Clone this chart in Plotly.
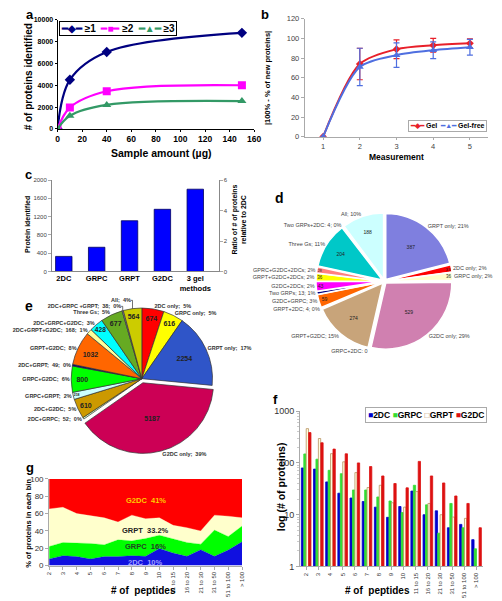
import plotly.graph_objects as go

W, H = 502, 601
FONT = "Liberation Sans, Arial, sans-serif"

# ---------------- data ----------------
# (a)
a_x = [0, 10, 40, 150]
a_ge1 = [0, 4500, 7050, 8800]
a_ge2 = [0, 1950, 3450, 4000]
a_ge3 = [0, 1200, 2200, 2550]

# (b)
b_x = [1, 2, 3, 4, 5]
b_gel = [0, 74, 89, 93, 95]
b_gel_err = [0, 16, 9.5, 7, 4.5]
b_free = [0, 71, 83, 88, 91]
b_free_err = [0, 19, 12.5, 8.5, 8]

# (c)
c_methods = ["2DC", "GRPC", "GRPT", "G2DC", "3 gel<br>methods"]
c_proteins = [330, 530, 1110, 1360, 1800]

# (d)
d_labels = ["GRPT only", "2DC only", "GRPC only", "G2DC only", "GRPC+2DC",
            "GRPT+G2DC", "GRPT+2DC", "G2DC+GRPC", "Two GRPs", "G2DC+2DCs",
            "GRPT+G2DC+2DCs", "GPRC+G2DC+2DCs", "Three Gs", "Two GRPs+2DC", "All"]
d_values = [387, 33, 36, 529, 0, 274, 4, 59, 13, 43, 36, 28, 204, 4, 188]
d_outside = ["GRPT only; 21%", "2DC only; 2%", "GRPC only; 2%", "G2DC only; 29%",
             "GRPC+2DC: 0", "GRPT+G2DC; 15%", "GRPT+2DC; 4; 0%", "G2DC+GRPC; 3%",
             "Two GRPs; 13; 1%", "G2DC+2DCs; 2%", "GRPT+G2DC+2DCs; 2%",
             "GPRC+G2DC+2DCs; 2%", "Three Gs; 11%", "Two GRPs+2DC: 4; 0%", "All; 10%"]
d_colors = ["#7F7FDF", "#FF0000", "#FFFFCC", "#D080B0", "#999999",
            "#C8A47A", "#33AA33", "#FF6600", "#000080", "#FF00FF",
            "#FFFF00", "#FF8080", "#00C8C8", "#808080", "#CCFFFF"]

# (e)
e_labels = ["2DC only", "GRPC only", "GRPT only", "G2DC only", "2DC+GRPC",
            "2DC+G2DC", "GRPC+GRPT", "GRPC+G2DC", "2DC+GRPT", "GRPT+G2DC",
            "2DC+GRPT+G2DC", "2DC+GRPC+G2DC", "Three Gs", "2DC+GRPC+GRPT", "All"]
e_values = [674, 616, 2254, 5187, 52, 610, 218, 800, 49, 1032, 168, 428, 677, 38, 564]
e_outside = ["2DC only;  5%", "GRPC only;  5%", "GRPT only;  17%", "G2DC only;  39%",
             "2DC+GRPC;  52;  0%", "2DC+G2DC;  5%", "GRPC+GRPT;  2%", "GRPC+G2DC;  6%",
             "2DC+GRPT;  49;  0%", "GRPT+G2DC;  8%", "2DC+GRPT+G2DC;  168;  1%",
             "2DC+GRPC+G2DC;  3%", "Three Gs;  5%", "2DC+GRPC +GRPT;  38;  0%", "All;  4%"]
e_colors = ["#FF0000", "#FFFF00", "#2F55C8", "#CC0055", "#CCFFCC",
            "#CC9900", "#CCFFFF", "#00FF00", "#000080", "#FF6600",
            "#FFFF99", "#00FFFF", "#66AA22", "#9999CC", "#CCCC00"]

# (f) / (g)
bins = ["2", "3", "4", "5", "6", "7", "8", "9", "10", "11 to 15", "16 to 20",
        "21 to 30", "31 to 50", "51 to 100", "> 100"]
f_2dc = [80, 76, 43, 26, 21, 18, 14, 8.9, 14.4, 28.6, 10, 11.9, 5.6, 6.5, 3.3]
f_grpc = [149, 118, 72, 62, 30, 30, 22, 18.4, 11, 37, 15.5, 4.4, 16.5, 5.6, 2.2]
f_grpt = [459, 296, 151, 105, 65, 33.5, 37, 17, 14, 28, 16.5, 10, 9, 8.5, None]
f_g2dc = [385, 245, 185, 150, 100, 85, 56, 40, 33, 107, 56, 41, 23, 16.5, 5.6]

g_2dc = [7.6, 11.4, 10.3, 7.6, 10.3, 10.3, 11.4, 10.6, 19.8, 14.4, 10.6, 18.3, 10.6, 17.9, 27.4]
g_grpc = [14.4, 15.2, 15.6, 17.9, 13.7, 19.4, 17.1, 20.6, 15.2, 16.8, 16.0, 6.4, 30.4, 15.6, 18.2]
g_grpt = [43.4, 40.7, 34.1, 32.3, 31.1, 20.5, 29.7, 22.8, 20.1, 15.2, 17.1, 15.2, 17.2, 23.5, 9.5]
g_g2dc = [34.6, 32.7, 40.0, 42.2, 44.9, 49.8, 41.8, 46.0, 44.9, 53.6, 56.3, 60.1, 41.8, 43.0, 44.9]

# series styles
a_series = [("≥1", a_ge1, "#000080", "diamond", "◆"),
            ("≥2", a_ge2, "#FF00FF", "square", "■"),
            ("≥3", a_ge3, "#339966", "triangle-up", "▲")]
b_series = [("Gel", b_gel, b_gel_err, "#E8202A", "diamond", "◆"),
            ("Gel-free", b_free, b_free_err, "#4F6FE0", "triangle-up", "▲")]
f_series = [("2DC", f_2dc, "#0000CC", "#0000CC", "■"),
            ("GRPC", f_grpc, "#33DD33", "#33DD33", "■"),
            ("GRPT", f_grpt, "#FFFFE0", "#B89060", "□"),
            ("G2DC", f_g2dc, "#DD1111", "#DD1111", "■")]
g_series = [("2DC", g_2dc, "#1010E0"), ("GRPC", g_grpc, "#00FF00"),
            ("GRPT", g_grpt, "#FFFFCC"), ("G2DC", g_g2dc, "#FF0000")]


def px(x):
    return x / W


def py(y):
    return 1 - y / H


fig = go.Figure()

# ---------------- (a) ----------------
for name, ys, col, sym, _ in a_series:
    fig.add_trace(go.Scatter(x=a_x, y=ys, name=name, mode="lines+markers",
                             line=dict(color=col, width=2.2, shape="spline", smoothing=1.0),
                             marker=dict(symbol=sym, size=8, color=col),
                             xaxis="x", yaxis="y", showlegend=False))

# ---------------- (b) ----------------
for name, ys, err, col, sym, _ in b_series:
    fig.add_trace(go.Scatter(x=b_x, y=ys, name=name, mode="lines+markers",
                             line=dict(color=col, width=2, shape="spline", smoothing=0.8),
                             marker=dict(symbol=sym, size=6 if sym == "diamond" else 7, color=col),
                             error_y=dict(type="data", array=err, color=col,
                                          thickness=1.2, width=3),
                             xaxis="x2", yaxis="y2", showlegend=False))

# ---------------- (c) ----------------
fig.add_trace(go.Bar(x=c_methods, y=c_proteins, width=0.5,
                     marker=dict(color="#0000FF", line=dict(color="#000060", width=0.8)),
                     xaxis="x3", yaxis="y3", showlegend=False))
c_ratio = [v / c_proteins[0] for v in c_proteins]
fig.add_trace(go.Scatter(x=c_methods, y=c_ratio, mode="markers",
                         marker=dict(opacity=0), hoverinfo="skip",
                         xaxis="x3", yaxis="y4", showlegend=False))

# ---------------- (d) pie ----------------
d_dom = dict(x=[px(314), px(460)], y=[py(354), py(208)])
d_pull = [0.035] * len(d_values)
d_inside = [str(v) if v >= 20 else " " for v in d_values]
fig.add_trace(go.Pie(labels=d_labels, values=d_values, sort=False, direction="clockwise",
                     rotation=0, domain=d_dom, pull=d_pull,
                     marker=dict(colors=d_colors, line=dict(color="white", width=1.5)),
                     text=d_inside, textinfo="text", textposition="inside",
                     insidetextorientation="horizontal",
                     insidetextfont=dict(size=5, color="#222", family=FONT),
                     showlegend=False))
fig.add_trace(go.Pie(labels=d_labels, values=d_values, sort=False, direction="clockwise",
                     rotation=0, domain=d_dom, pull=d_pull,
                     marker=dict(colors=["rgba(0,0,0,0)"] * len(d_values),
                                 line=dict(width=0)),
                     text=d_outside, textinfo="text", textposition="outside",
                     outsidetextfont=dict(size=5.5, color="#444", family=FONT),
                     hoverinfo="skip", showlegend=False))

# ---------------- (e) pie ----------------
e_dom = dict(x=[px(48), px(208)], y=[py(460), py(300)])
e_pull = [0, 0, 0, 0.06] + [0] * 11
e_inside = [str(v) if v >= 200 else " " for v in e_values]
fig.add_trace(go.Pie(labels=e_labels, values=e_values, sort=False, direction="clockwise",
                     rotation=0, domain=e_dom, pull=e_pull,
                     marker=dict(colors=e_colors, line=dict(color="#333", width=0.7)),
                     text=e_inside, textinfo="text", textposition="inside",
                     insidetextorientation="horizontal",
                     insidetextfont=dict(size=7, color="#222", family=FONT, weight="bold"),
                     showlegend=False))
fig.add_trace(go.Pie(labels=e_labels, values=e_values, sort=False, direction="clockwise",
                     rotation=0, domain=e_dom, pull=e_pull,
                     marker=dict(colors=["rgba(0,0,0,0)"] * len(e_values),
                                 line=dict(width=0)),
                     text=e_outside, textinfo="text", textposition="outside",
                     outsidetextfont=dict(size=5.5, color="#333", family=FONT, weight="bold"),
                     hoverinfo="skip", showlegend=False))

# ---------------- (f) ----------------
for name, ys, col, lc, _ in f_series:
    fig.add_trace(go.Bar(x=bins, y=ys, name=name,
                         marker=dict(color=col, line=dict(color=lc, width=0.8)),
                         xaxis="x4", yaxis="y5", showlegend=False))

# ---------------- (g) ----------------
for name, ys, col in g_series:
    fig.add_trace(go.Scatter(x=bins, y=ys, name=name, mode="lines", stackgroup="g",
                             line=dict(width=0.3, color=col), fillcolor=col,
                             xaxis="x5", yaxis="y6", showlegend=False))

# ---------------- layout ----------------
ax_common = dict(showgrid=False, zeroline=False, showline=True, linecolor="black",
                 linewidth=1, ticks="outside", ticklen=2, tickcolor="black")


def grey_axis(**kw):
    d = dict(showgrid=False, zeroline=False, showline=True, linecolor="#AAAAAA",
             ticks="outside", ticklen=3, tickcolor="#AAAAAA")
    d.update(kw)
    return d


fig.update_layout(
    width=W, height=H, margin=dict(l=0, r=0, t=0, b=0),
    paper_bgcolor="white", plot_bgcolor="rgba(0,0,0,0)",
    font=dict(family=FONT, size=9, color="black"),
    barmode="group", bargap=0.2, bargroupgap=0.05, showlegend=False,
    # a
    xaxis=dict(domain=[px(38), px(248)], anchor="y", range=[0, 160], dtick=20,
               tickfont=dict(family=FONT, size=8.5, color="black", weight="bold"),
               **ax_common),
    yaxis=dict(domain=[py(126), py(15)], anchor="x", range=[0, 10000], dtick=2000,
               tickformat="d",
               tickfont=dict(family=FONT, size=7, color="black", weight="bold"),
               **ax_common),
    # b
    xaxis2=grey_axis(domain=[px(302), px(498)], anchor="y2", range=[0.5, 5.5], dtick=1,
                     ticklen=2, tickfont=dict(family=FONT, size=7.5, color="#444")),
    yaxis2=grey_axis(domain=[py(134), py(14)], anchor="x2", range=[0, 120], dtick=20,
                     tickfont=dict(family=FONT, size=7.5, color="#444")),
    # c
    xaxis3=grey_axis(domain=[px(32), px(210)], anchor="y3", range=[-0.36, 4.71],
                     tickfont=dict(family=FONT, size=7.5, color="black", weight="bold"),
                     ticks="", tickangle=0, linecolor="#888"),
    yaxis3=grey_axis(domain=[py(271), py(178)], anchor="x3", range=[0, 2000], dtick=400,
                     tickfont=dict(family=FONT, size=6, color="#444"), linecolor="#888"),
    yaxis4=grey_axis(overlaying="y3", side="right", anchor="x3", range=[0, 6], dtick=2,
                     tickfont=dict(family=FONT, size=6, color="#444"), linecolor="#888"),
    # f
    xaxis4=grey_axis(domain=[px(297), px(492)], anchor="y5", type="category",
                     tickfont=dict(family=FONT, size=6, color="#333"), tickangle=-90),
    yaxis5=grey_axis(domain=[py(571), py(413)], anchor="x4", type="log", range=[0, 3],
                     dtick=1, tickfont=dict(family=FONT, size=9, color="#333"),
                     minor=dict(ticks="outside", ticklen=2, tickcolor="#CCCCCC")),
    # g
    xaxis5=grey_axis(domain=[px(29), px(235)], anchor="y6", type="category", range=[0, 14],
                     tickfont=dict(family=FONT, size=6, color="#333"), tickangle=-90),
    yaxis6=grey_axis(domain=[py(570), py(482)], anchor="x5", range=[0, 100], dtick=20,
                     tickfont=dict(family=FONT, size=8, color="#333")),
)

ann = []


def add_text(x, y, text, size, angle=0, weight="bold", color="black", xanchor="center",
             yanchor="middle", xref="paper", yref="paper", **kw):
    ann.append(dict(x=x, y=y, xref=xref, yref=yref, text=text, showarrow=False,
                    textangle=angle, xanchor=xanchor, yanchor=yanchor,
                    font=dict(family=FONT, size=size, color=color, weight=weight), **kw))


def span(col, s):
    return "<span style='color:%s'>%s</span>" % (col, s)


# panel letters
add_text(px(2), py(0), "a", 13, xanchor="left", yanchor="top")
add_text(px(253), py(0), "b", 13, xanchor="left", yanchor="top")
add_text(px(1), py(163), "c", 13, xanchor="left", yanchor="top")
add_text(px(268), py(186), "d", 14, xanchor="left", yanchor="top")
add_text(px(1), py(296), "e", 14, xanchor="left", yanchor="top")
add_text(px(266), py(392), "f", 13, xanchor="left", yanchor="top")
add_text(px(2), py(461), "g", 13, xanchor="left", yanchor="top")

# legends (compact, as in the reference)
add_text(px(40), py(16),
         "  ".join(span(c, "━" + g + "━") + " " + n for n, _, c, _, g in a_series),
         10, xanchor="left", yanchor="top", bgcolor="white", bordercolor="black",
         borderwidth=1, borderpad=1)
add_text(px(497), py(117),
         "  ".join(span(c, "━" + g + "━") + " " + n for n, _, _, c, _, g in b_series),
         7, xanchor="right", yanchor="top", bgcolor="white", bordercolor="#AAAAAA",
         borderwidth=1, borderpad=1)
add_text(px(497), py(409),
         " ".join(span(lc, g) + n for n, _, _, lc, g in f_series),
         8.5, xanchor="right", yanchor="top", bgcolor="white", bordercolor="#AAAAAA",
         borderwidth=1, borderpad=2)

# axis titles
add_text(px(7), py(73), "# of proteins identified", 10, angle=-90)
add_text(px(149), py(151), "Sample amount (µg)", 10.5)
add_text(px(262), py(74), "|100% - % of new proteins|", 7.5, angle=-90)
add_text(px(400), py(155), "Measurement", 8.5)
add_text(px(6), py(223), "Protein identified", 7, angle=-90)
add_text(px(232), py(218), "Ratio of # of proteins<br>relative to 2DC", 7, angle=-90)
add_text(px(276), py(490), "log (# of proteins)", 10.5, angle=-90)
add_text(px(380), py(595), "# of  peptides", 10)
add_text(px(7), py(527), "% of proteins in each bin", 7.5, angle=-90)
add_text(px(130), py(595), "# of  peptides", 10)

# (g) layer labels
add_text(7, 75, "G2DC  41%", 7.5, color="#FFCC00", xref="x5", yref="y6")
add_text(7, 41, "GRPT  33.2%", 7.5, color="#222", xref="x5", yref="y6")
add_text(7, 21.5, "GRPC  16%", 7.5, color="#224422", xref="x5", yref="y6")
add_text(7, 3.5, "2DC  10%", 7.5, color="#A0A0FF", xref="x5", yref="y6")

fig.update_layout(annotations=ann)
fig.write_html("out.html", config={"displayModeBar": False},
               post_script="document.body.style.margin='0';"
                           "document.body.style.overflow='hidden';")
